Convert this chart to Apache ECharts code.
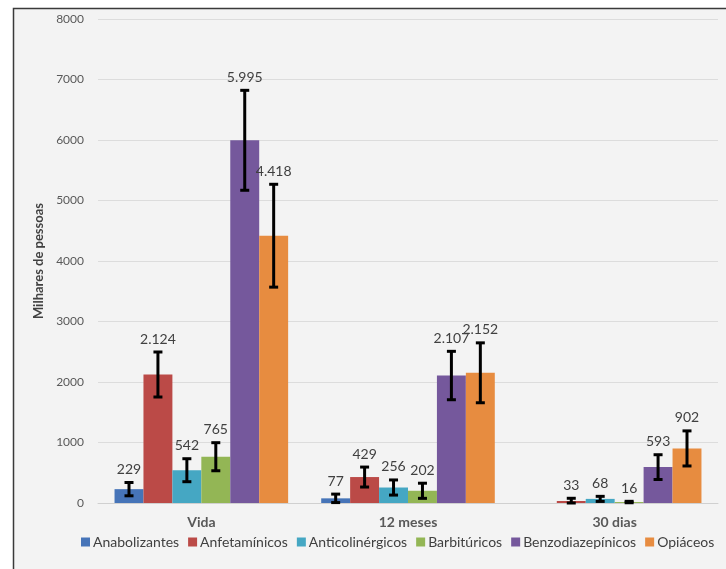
<!DOCTYPE html>
<html>
<head>
<meta charset="utf-8">
<script src="https://cdn.jsdelivr.net/npm/echarts@6/dist/echarts.min.js"></script>
<style>
html,body{margin:0;padding:0;background:#fff;}
#chart{width:726px;height:569px;}
</style>
</head>
<body>
<div id="chart"></div>
<script>
// categorias e series
var categories = ["Vida", "12 meses", "30 dias"];
var seriesNames = ["Anabolizantes", "Anfetamínicos", "Anticolinérgicos", "Barbitúricos", "Benzodiazepínicos", "Opiáceos"];
var colors = ["#4674b8", "#bb4a47", "#45a7c3", "#93b655", "#75589c", "#e78c40"];

var anabolizantes = [229, 77, null];
var anfetaminicos = [2124, 429, 33];
var anticolinergicos = [542, 256, 68];
var barbituricos = [765, 202, 16];
var benzodiazepinicos = [5995, 2107, 593];
var opiaceos = [4418, 2152, 902];

// erro (+/-)
var errAnabolizantes = [110, 70, null];
var errAnfetaminicos = [372, 165, 45];
var errAnticolinergicos = [190, 125, 42];
var errBarbituricos = [232, 125, 12];
var errBenzodiazepinicos = [826, 400, 205];
var errOpiaceos = [850, 495, 290];

var values = [anabolizantes, anfetaminicos, anticolinergicos, barbituricos, benzodiazepinicos, opiaceos];
var errors = [errAnabolizantes, errAnfetaminicos, errAnticolinergicos, errBarbituricos, errBenzodiazepinicos, errOpiaceos];

var yTicks = [0, 1000, 2000, 3000, 4000, 5000, 6000, 7000, 8000];

var FONT = "Lato, 'Open Sans', sans-serif";
var CAT_GAP = 0.16;

//formato com ponto de milhar
function fmt(v){
	return String(v).replace(/\B(?=(\d{3})+(?!\d))/g, ".");
}

function errorSeries(idx){
	var data = [];
	for(var i=0;i<categories.length;i++){
		if(values[idx][i] == null) continue;
		data.push([i, values[idx][i], errors[idx][i]]);
	}
	return {
		type: "custom",
		name: seriesNames[idx] + "_err",
		z: 5,
		data: data,
		renderItem: function(params, api){
			var ci = api.value(0), v = api.value(1), e = api.value(2);
			var band = api.size([1, 0])[0];
			var remain = band * (1 - CAT_GAP);
			var bw = remain / seriesNames.length;
			var cx = api.coord([ci, 0])[0] - remain / 2 + bw * (idx + 0.5);
			var top = api.coord([ci, v + e])[1];
			var bot = api.coord([ci, Math.max(v - e, 0)])[1];
			var st = {stroke: "#000", lineWidth: 3};
			return {
				type: "group",
				children: [
					{type: "line", shape: {x1: cx, y1: top, x2: cx, y2: bot}, style: st},
					{type: "line", shape: {x1: cx - 4.5, y1: top, x2: cx + 4.5, y2: top}, style: st},
					{type: "line", shape: {x1: cx - 4.5, y1: bot, x2: cx + 4.5, y2: bot}, style: st},
					{type: "text", x: cx, y: top - 6, style: {
						text: fmt(v), fill: "#404040", font: "14px " + FONT,
						align: "center", verticalAlign: "bottom"
					}}
				]
			};
		}
	};
}

var series = [];
for(var s=0;s<seriesNames.length;s++){
	series.push({
		type: "bar",
		name: seriesNames[s],
		data: values[s],
		itemStyle: {color: colors[s]},
		barGap: "0%",
		barCategoryGap: (CAT_GAP * 100) + "%"
	});
}
for(var s=0;s<seriesNames.length;s++){
	series.push(errorSeries(s));
}

var myChart = echarts.init(document.getElementById("chart"));
myChart.setOption({
	backgroundColor: "#fff",
	animation: false,
	textStyle: {fontFamily: FONT},
	graphic: [{
		type: "rect", z: -10, silent: true,
		shape: {x: 13.5, y: 8.5, width: 730, height: 580},
		style: {fill: "#f3f3f3", stroke: "#3a3a3a", lineWidth: 1.5}
	}],
	grid: {left: 98, right: 8, top: 19, bottom: 66},
	legend: {
		data: seriesNames,
		bottom: 15,
		left: 76,
		itemWidth: 9,
		itemHeight: 9,
		itemGap: 9,
		icon: "rect",
		textStyle: {color: "#404040", fontSize: 14, fontFamily: FONT, padding: [0, 0, 0, -2]}
	},
	xAxis: {
		type: "category",
		data: categories,
		axisLine: {lineStyle: {color: "#d0d0d0"}},
		axisTick: {show: false},
		axisLabel: {color: "#595959", fontSize: 14, fontWeight: "bold", margin: 12}
	},
	yAxis: {
		type: "value",
		min: yTicks[0],
		max: yTicks[yTicks.length - 1],
		interval: 1000,
		name: "Milhares de pessoas",
		nameLocation: "middle",
		nameGap: 47,
		nameTextStyle: {color: "#404040", fontSize: 13, fontWeight: "bold"},
		axisLine: {show: false},
		axisTick: {show: false},
		axisLabel: {color: "#595959", fontSize: 12, margin: 14, formatter: function(v){ return String(v); }},
		splitLine: {lineStyle: {color: "#dcdcdc"}}
	},
	series: series
});
</script>
</body>
</html>
